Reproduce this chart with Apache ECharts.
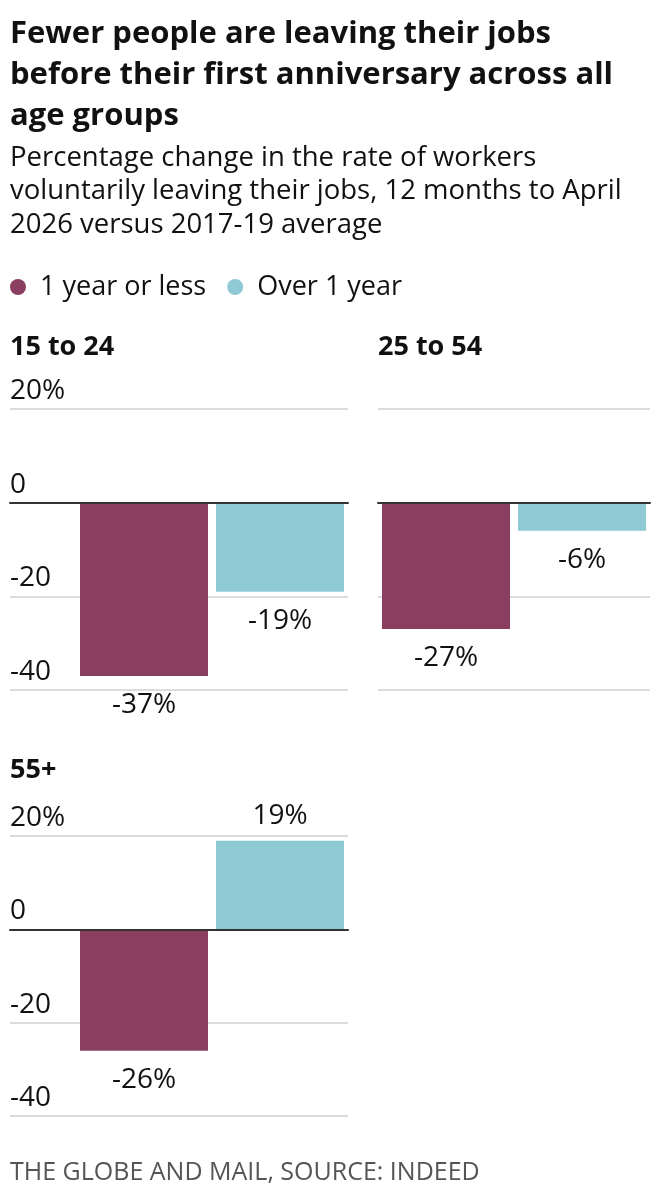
<!DOCTYPE html>
<html>
<head>
<meta charset="utf-8">
<script src="https://cdn.jsdelivr.net/npm/echarts@6/dist/echarts.min.js"></script>
<style>
  html, body { margin: 0; padding: 0; background: #fff; }
  #chart { width: 660px; height: 1198px; }
</style>
</head>
<body>
<div id="chart"></div>
<script>
var ageGroups = ['15 to 24', '25 to 54', '55+'];
var seriesNames = ['1 year or less', 'Over 1 year'];
var oneYearOrLess = [-37, -27, -26];
var overOneYear = [-19, -6, 19];
var yMin = -40, yMax = 20, yStep = 20;

var chartDom = document.getElementById('chart');
var myChart = echarts.init(chartDom);
var option;

var font = '"Open Sans", sans-serif';
var maroon = '#8a3f60';
var teal = '#8fcad4';

// where each small multiple sits
var panels = [
    {left: 10, width: 338, barLeft: 76, top: 409, height: 281, titleLeft: 10, titleTop: 332, ticks: true},
    {left: 378, width: 272, barLeft: 378, top: 409, height: 281, titleLeft: 378, titleTop: 332, ticks: false},
    {left: 10, width: 338, barLeft: 76, top: 836, height: 280, titleLeft: 10, titleTop: 755, ticks: true}
];

var titles = [
    {
        text: 'Fewer people are leaving their jobs\nbefore their first anniversary across all\nage groups',
        left: 10, top: 14, padding: 0,
        textStyle: {fontFamily: font, fontSize: 31, fontWeight: 'bold', lineHeight: 41, color: '#111'}
    },
    {
        text: 'Percentage change in the rate of workers\nvoluntarily leaving their jobs, 12 months to April\n2026 versus 2017-19 average',
        left: 10, top: 141, padding: 0,
        textStyle: {fontFamily: font, fontSize: 27.5, fontWeight: 'normal', lineHeight: 33.5, color: '#111'}
    },
    {
        text: 'THE GLOBE AND MAIL, SOURCE: INDEED',
        left: 10, top: 1160, padding: 0,
        textStyle: {fontFamily: font, fontSize: 25, fontWeight: 'normal', lineHeight: 25, color: '#555'}
    }
];

var grids = [], xAxes = [], yAxes = [], series = [];

// background grids: gridlines, tick labels and the zero line
panels.forEach(function (p, i) {
    titles.push({
        text: ageGroups[i],
        left: p.titleLeft, top: p.titleTop, padding: 0,
        textStyle: {fontFamily: font, fontSize: 27, fontWeight: 'bold', lineHeight: 30, color: '#111'}
    });
    grids.push({left: p.left, top: p.top, width: p.width, height: p.height});
    xAxes.push({
        gridIndex: i, type: 'value', min: 0, max: 1, z: 10,
        axisLine: {show: true, onZero: true, lineStyle: {color: '#333', width: 2}},
        axisTick: {show: false}, axisLabel: {show: false}, splitLine: {show: false}
    });
    yAxes.push({
        gridIndex: i, type: 'value', min: yMin, max: yMax, interval: yStep,
        axisLine: {show: false}, axisTick: {show: false},
        splitLine: {lineStyle: {color: '#d0d0d0', width: 1.5}},
        axisLabel: {
            show: p.ticks, inside: true, margin: 0,
            verticalAlign: 'bottom', padding: [0, 0, 4, 0], lineHeight: 28,
            fontFamily: font, fontSize: 28, color: '#111',
            formatter: function (v) { return v === yMax ? v + '%' : String(v); }
        }
    });
});

// bar grids on top
panels.forEach(function (p, i) {
    var gi = panels.length + i;
    grids.push({left: p.barLeft, top: p.top, width: 272, height: p.height});
    xAxes.push({gridIndex: gi, type: 'category', data: [ageGroups[i]], show: false});
    yAxes.push({gridIndex: gi, type: 'value', min: yMin, max: yMax, interval: yStep, show: false});
    [oneYearOrLess, overOneYear].forEach(function (vals, k) {
        var v = vals[i];
        series.push({
            name: seriesNames[k],
            type: 'bar',
            xAxisIndex: gi, yAxisIndex: gi,
            barWidth: 128, barGap: '6.25%',
            itemStyle: {color: k === 0 ? maroon : teal},
            label: {
                show: true, position: 'outside',
                formatter: '{c}%',
                fontFamily: font, fontSize: 28, color: '#111'
            },
            data: [{value: v, label: {distance: v < 0 ? 15 : 11}}]
        });
    });
});

option = {
    backgroundColor: '#fff',
    animation: false,
    title: titles,
    legend: {
        data: seriesNames,
        left: 10, top: 273, padding: 0,
        icon: 'circle', itemWidth: 16, itemHeight: 16, itemGap: 21,
        textStyle: {fontFamily: font, fontSize: 27, lineHeight: 28, color: '#111', padding: [0, 0, 0, 9]}
    },
    grid: grids,
    xAxis: xAxes,
    yAxis: yAxes,
    series: series
};

option && myChart.setOption(option);
</script>
</body>
</html>
